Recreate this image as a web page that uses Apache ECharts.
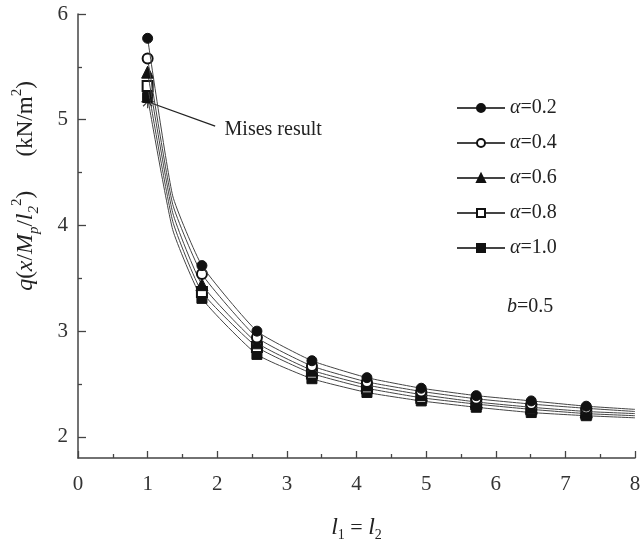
<!DOCTYPE html>
<html>
<head>
<meta charset="utf-8">
<script src="https://cdn.jsdelivr.net/npm/echarts@6/dist/echarts.min.js"></script>
<style>
html, body { margin: 0; padding: 0; background: #fff; }
#main { width: 644px; height: 547px; }
</style>
</head>
<body>
<div id="main"></div>
<script>
// x positions (l1 = l2); index 1 is a bend point and the last one ends at the axis, both drawn without marker
var xValues = [1.0, 1.36, 1.78, 2.57, 3.36, 4.15, 4.93, 5.72, 6.51, 7.30, 8.0];
var noMarker = [1, 10];

var a02 = [5.77, 4.28, 3.62, 3.00, 2.72, 2.56, 2.46, 2.39, 2.34, 2.29, 2.26];
var a04 = [5.58, 4.20, 3.54, 2.94, 2.67, 2.52, 2.43, 2.36, 2.31, 2.27, 2.24];
var a06 = [5.45, 4.12, 3.44, 2.89, 2.63, 2.49, 2.40, 2.33, 2.28, 2.24, 2.22];
var a08 = [5.32, 4.04, 3.37, 2.85, 2.60, 2.46, 2.37, 2.31, 2.26, 2.22, 2.20];
var a10 = [5.21, 3.96, 3.31, 2.78, 2.55, 2.42, 2.34, 2.28, 2.23, 2.20, 2.18];

var seriesNames = ['α=0.2', 'α=0.4', 'α=0.6', 'α=0.8', 'α=1.0'];
var seriesSymbols = ['circle', 'emptyCircle', 'triangle', 'emptyRect', 'rect'];

// Mises result point and the end of its leader line
var misesPoint = [1.0, 5.17];
var misesLabelAt = [1.97, 4.94];

var xTicks = [0, 1, 2, 3, 4, 5, 6, 7, 8];
var yTicks = [2, 3, 4, 5, 6];
var yMinorTicks = [2.5, 3.5, 4.5, 5.5];

var serif = 'Liberation Serif';
var ink = '#222';

function pairs(ys) {
    return xValues.map(function (x, i) {
        var item = { value: [x, ys[i]] };
        if (noMarker.indexOf(i) >= 0) item.symbol = 'none';
        return item;
    });
}

var myChart = echarts.init(document.getElementById('main'));

var allValues = [a02, a04, a06, a08, a10];
var series = allValues.map(function (ys, k) {
    return {
        name: seriesNames[k],
        type: 'line',
        data: pairs(ys),
        symbol: seriesSymbols[k],
        symbolSize: seriesSymbols[k] === 'triangle' ? 12 : 10,
        smooth: 0.15,
        z: 10 - k,
        lineStyle: { color: '#444', width: 1 },
        itemStyle: { color: '#111', borderColor: '#111', borderWidth: 1 }
    };
});

series.push({
    name: 'Mises',
    type: 'scatter',
    data: [misesPoint],
    symbol: 'path://M0,-6L0,6M-6,0L6,0M-4.2,-4.2L4.2,4.2M-4.2,4.2L4.2,-4.2',
    symbolSize: 13,
    z: 20,
    itemStyle: { color: 'none', borderColor: '#111', borderWidth: 1.2 },
    markLine: {
        silent: true,
        symbol: 'none',
        lineStyle: { color: '#222', width: 1.3, type: 'solid' },
        label: {
            show: true,
            position: 'end',
            distance: 10,
            formatter: 'Mises result',
            color: ink,
            fontFamily: serif,
            fontSize: 20
        },
        data: [[{ coord: misesPoint }, { coord: misesLabelAt }]]
    }
});

var option = {
    animation: false,
    grid: { left: 78, right: 9, top: 14, bottom: 83 },
    legend: {
        data: seriesNames,
        orient: 'vertical',
        left: 451,
        top: 92,
        itemWidth: 48,
        itemHeight: 10,
        itemGap: 13,
        formatter: function (name) {
            return '{a|α}=' + name.split('=')[1];
        },
        textStyle: {
            color: ink,
            fontFamily: serif,
            fontSize: 20,
            lineHeight: 22,
            rich: { a: { fontStyle: 'italic', fontFamily: serif, fontSize: 20, color: ink } }
        }
    },
    graphic: [{
        type: 'text',
        left: 507,
        top: 297,
        style: {
            text: '{b|b}=0.5',
            fill: ink,
            font: '20px "Liberation Serif"',
            rich: { b: { fontStyle: 'italic', fontFamily: serif, fontSize: 20, fill: ink } }
        }
    }],
    xAxis: {
        type: 'value',
        min: 0,
        max: 8,
        interval: 1,
        name: '{i|l}{s|1} = {i|l}{s|2}',
        nameLocation: 'middle',
        nameGap: 56,
        nameTextStyle: {
            color: ink,
            fontFamily: serif,
            fontSize: 22,
            rich: {
                i: { fontStyle: 'italic', fontFamily: serif, fontSize: 24, lineHeight: 28, color: ink },
                s: { fontFamily: serif, fontSize: 14, lineHeight: 14, verticalAlign: 'bottom', color: ink }
            }
        },
        axisLine: { lineStyle: { color: '#444', width: 1.5 } },
        axisTick: { inside: true, length: 7, lineStyle: { color: '#444', width: 1.3 } },
        minorTick: { show: true, splitNumber: 2, length: 4, lineStyle: { color: '#444', width: 1.3 } },
        axisLabel: {
            margin: 16,
            color: '#333',
            fontFamily: serif,
            fontSize: 21,
            formatter: function (v) { return xTicks.indexOf(v) >= 0 ? String(v) : ''; }
        },
        splitLine: { show: false }
    },
    yAxis: [{
        type: 'value',
        min: 1.8,
        max: 6,
        name: '{i|q}({i|x}/{i|M}{s|p}/{i|l}{s|2}{u|2})      (kN/m{u|2})',
        nameLocation: 'middle',
        nameRotate: 90,
        nameGap: 36,
        nameTextStyle: {
            color: ink,
            fontFamily: serif,
            fontSize: 23,
            lineHeight: 32,
            padding: [0, 0, 0, 100],
            rich: {
                i: { fontStyle: 'italic', fontFamily: serif, fontSize: 24, lineHeight: 32, color: ink },
                s: { fontFamily: serif, fontStyle: 'italic', fontSize: 15, lineHeight: 15, verticalAlign: 'bottom', color: ink },
                u: { fontFamily: serif, fontSize: 15, lineHeight: 15, verticalAlign: 'top', color: ink }
            }
        },
        axisLine: { show: true, lineStyle: { color: '#444', width: 1.5 } },
        axisTick: { show: true, inside: true, length: 8, customValues: yTicks, lineStyle: { color: '#444', width: 1.3 } },
        axisLabel: {
            margin: 10,
            color: '#333',
            fontFamily: serif,
            fontSize: 21,
            customValues: yTicks
        },
        splitLine: { show: false }
    }, {
        type: 'value',
        min: 1.8,
        max: 6,
        position: 'left',
        axisLine: { show: false },
        axisTick: { show: true, inside: true, length: 4, customValues: yMinorTicks, lineStyle: { color: '#444', width: 1.3 } },
        axisLabel: { show: false },
        splitLine: { show: false }
    }],
    series: series
};

myChart.setOption(option);
</script>
</body>
</html>
